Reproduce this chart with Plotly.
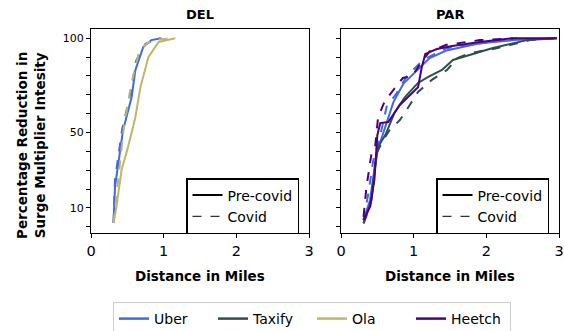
import plotly.graph_objects as go

# ---------------- data ----------------
companies = ["Uber", "Taxify", "Ola", "Heetch"]
colors = {"Uber": "#4169e1", "Taxify": "#2f4f4f", "Ola": "#bdb76b", "Heetch": "#4b0082"}

# DEL
del_uber_pre_x = [0.31, 0.33, 0.44, 0.56, 0.61, 0.72, 0.83, 0.97]
del_uber_pre_y = [2, 21, 51, 69, 83, 95.5, 99, 100]
del_uber_cov_x = [0.31, 0.33, 0.43, 0.55, 0.62, 0.75, 0.95]
del_uber_cov_y = [2, 25, 52, 72, 88, 97, 100]
del_ola_pre_x = [0.31, 0.35, 0.42, 0.51, 0.61, 0.68, 0.79, 0.93, 1.16]
del_ola_pre_y = [2, 10.6, 30, 42.5, 58, 74, 90, 98, 100]
del_ola_cov_x = [0.31, 0.45, 0.55, 0.67, 0.83, 1.16]
del_ola_cov_y = [2, 52, 75, 94, 99, 100]

# PAR
par_uber_pre_x = [0.31, 0.40, 0.49, 0.58, 0.72, 0.86, 1.04, 1.22, 1.45, 1.91, 2.37, 2.97]
par_uber_pre_y = [3.5, 14.2, 39, 49.6, 66, 76, 82.5, 89.5, 93.5, 97.3, 99, 100]
par_uber_cov_x = [0.31, 0.376, 0.445, 0.536, 0.628, 0.765, 0.90, 1.13, 1.45, 1.91, 2.42]
par_uber_cov_y = [3.5, 17.7, 35.4, 47.8, 63.7, 70.8, 79.6, 88.5, 94.7, 97.3, 100]
par_taxify_pre_x = [0.31, 0.42, 0.47, 0.51, 0.61, 0.74, 0.88, 1.06, 1.20, 1.39, 1.54, 1.80, 2.09, 2.56, 2.97]
par_taxify_pre_y = [1.8, 14.2, 31.8, 42.5, 48.6, 60.8, 68.8, 76.3, 79.5, 83.2, 88.5, 91.5, 94.8, 99, 100]
par_taxify_cov_x = [0.31, 0.40, 0.49, 0.58, 0.67, 0.81, 0.92, 1.06, 1.25, 1.46, 1.60, 1.77, 2.14, 2.60, 2.97]
par_taxify_cov_y = [1.8, 10.6, 39, 46, 51.3, 56.6, 63, 71.5, 77.9, 83.2, 89.5, 92, 94.7, 99, 100]
par_heetch_pre_x = [0.31, 0.40, 0.46, 0.50, 0.54, 0.65, 0.81, 1.06, 1.11, 1.16, 1.32, 1.53, 1.91, 2.37, 2.97]
par_heetch_pre_y = [3.5, 10.6, 25, 48.6, 55, 55.6, 64.6, 74, 84.3, 91.7, 94.3, 95.9, 98, 100, 100]
par_heetch_cov_x = [0.31, 0.35, 0.42, 0.47, 0.51, 0.60, 0.74, 0.85, 0.98, 1.11, 1.22, 1.45, 1.91, 2.37]
par_heetch_cov_y = [5.3, 21, 39, 42.5, 58, 66.5, 73.5, 78.9, 80, 87.5, 93, 96.5, 99, 100]

x_ticks = [0, 1, 2, 3]
y_ticks = [0, 10, 20, 30, 40, 50, 60, 70, 80, 90, 100]
y_ticktext = ["", "10", "", "", "", "50", "", "", "", "", "100"]

series = [
    ("x", "y", "Uber", del_uber_pre_x, del_uber_pre_y, del_uber_cov_x, del_uber_cov_y),
    ("x", "y", "Ola", del_ola_pre_x, del_ola_pre_y, del_ola_cov_x, del_ola_cov_y),
    ("x2", "y2", "Uber", par_uber_pre_x, par_uber_pre_y, par_uber_cov_x, par_uber_cov_y),
    ("x2", "y2", "Taxify", par_taxify_pre_x, par_taxify_pre_y, par_taxify_cov_x, par_taxify_cov_y),
    ("x2", "y2", "Heetch", par_heetch_pre_x, par_heetch_pre_y, par_heetch_cov_x, par_heetch_cov_y),
]

fig = go.Figure()
for xa, ya, name, px_, py_, cx, cy in series:
    fig.add_trace(go.Scatter(x=px_, y=py_, xaxis=xa, yaxis=ya, mode="lines",
                             line=dict(color=colors[name], width=2), showlegend=False))
    fig.add_trace(go.Scatter(x=cx, y=cy, xaxis=xa, yaxis=ya, mode="lines",
                             line=dict(color=colors[name], width=2, dash="dash"), showlegend=False))

# main legend entries
for name in companies:
    fig.add_trace(go.Scatter(x=[None], y=[None], mode="lines", name=name,
                             line=dict(color=colors[name], width=2.5), legend="legend"))

# inner legends
for lg, xa, ya in [("legend2", "x", "y"), ("legend3", "x2", "y2")]:
    fig.add_trace(go.Scatter(x=[None], y=[None], xaxis=xa, yaxis=ya, mode="lines", name="Pre-covid",
                             line=dict(color="black", width=2), legend=lg))
    fig.add_trace(go.Scatter(x=[None], y=[None], xaxis=xa, yaxis=ya, mode="lines", name="Covid",
                             line=dict(color="black", width=1, dash="dash"), legend=lg))

ydom = [1 - 233 / 331, 1 - 29 / 331]
axis_common = dict(showline=True, linecolor="black", linewidth=1.2, mirror=True,
                   ticks="outside", ticklen=4, tickcolor="black", showgrid=False, zeroline=False)


def ann(text, xpx, ypx, size, angle=0):
    return dict(text=text, x=xpx / 564, y=1 - ypx / 331, xref="paper", yref="paper",
                xanchor="center", yanchor="middle", showarrow=False, textangle=angle,
                font=dict(size=size))


fig.update_layout(
    width=564, height=331,
    margin=dict(l=0, r=0, t=0, b=0, autoexpand=False),
    plot_bgcolor="white", paper_bgcolor="white",
    font=dict(family="DejaVu Sans", color="black"),
    xaxis=dict(domain=[91 / 564, 309 / 564], range=[0, 3], tickvals=x_ticks,
               tickfont=dict(size=14.5), **axis_common),
    yaxis=dict(domain=ydom, range=[-3.3, 104.9], tickvals=y_ticks, ticktext=y_ticktext,
               tickfont=dict(size=11), **axis_common),
    xaxis2=dict(domain=[341 / 564, 559 / 564], range=[0, 3], tickvals=x_ticks, anchor="y2",
                tickfont=dict(size=14.5), **axis_common),
    yaxis2=dict(domain=ydom, range=[-3.3, 104.9], tickvals=y_ticks, showticklabels=False,
                anchor="x2", **axis_common),
    legend=dict(orientation="h", x=113 / 564, y=1 - 302 / 331, xanchor="left", yanchor="top",
                bordercolor="#cccccc", borderwidth=1, font=dict(size=14), itemwidth=30,
                entrywidth=54, entrywidthmode="pixels",
                bgcolor="white", tracegroupgap=0),
    legend2=dict(x=186 / 564, y=1 - 178 / 331, xanchor="left", yanchor="top",
                 bordercolor="black", borderwidth=1.5, font=dict(size=14), bgcolor="white",
                 itemwidth=30, tracegroupgap=0),
    legend3=dict(x=436 / 564, y=1 - 178 / 331, xanchor="left", yanchor="top",
                 bordercolor="black", borderwidth=1.5, font=dict(size=14), bgcolor="white",
                 itemwidth=30, tracegroupgap=0),
    annotations=[
        ann("<b>DEL</b>", 200, 15, 13),
        ann("<b>PAR</b>", 450, 15, 13),
        ann("<b>Distance in Miles</b>", 200, 276, 13.5),
        ann("<b>Distance in Miles</b>", 450, 276, 13.5),
        ann("<b>Percentage Reduction in<br>Surge Multiplier Intesity</b>", 31, 146, 13.5, -90),
    ],
)

fig.write_html("out.html", config={"displayModeBar": False},
               post_script="document.body.style.margin='0';document.body.style.overflow='hidden';")
